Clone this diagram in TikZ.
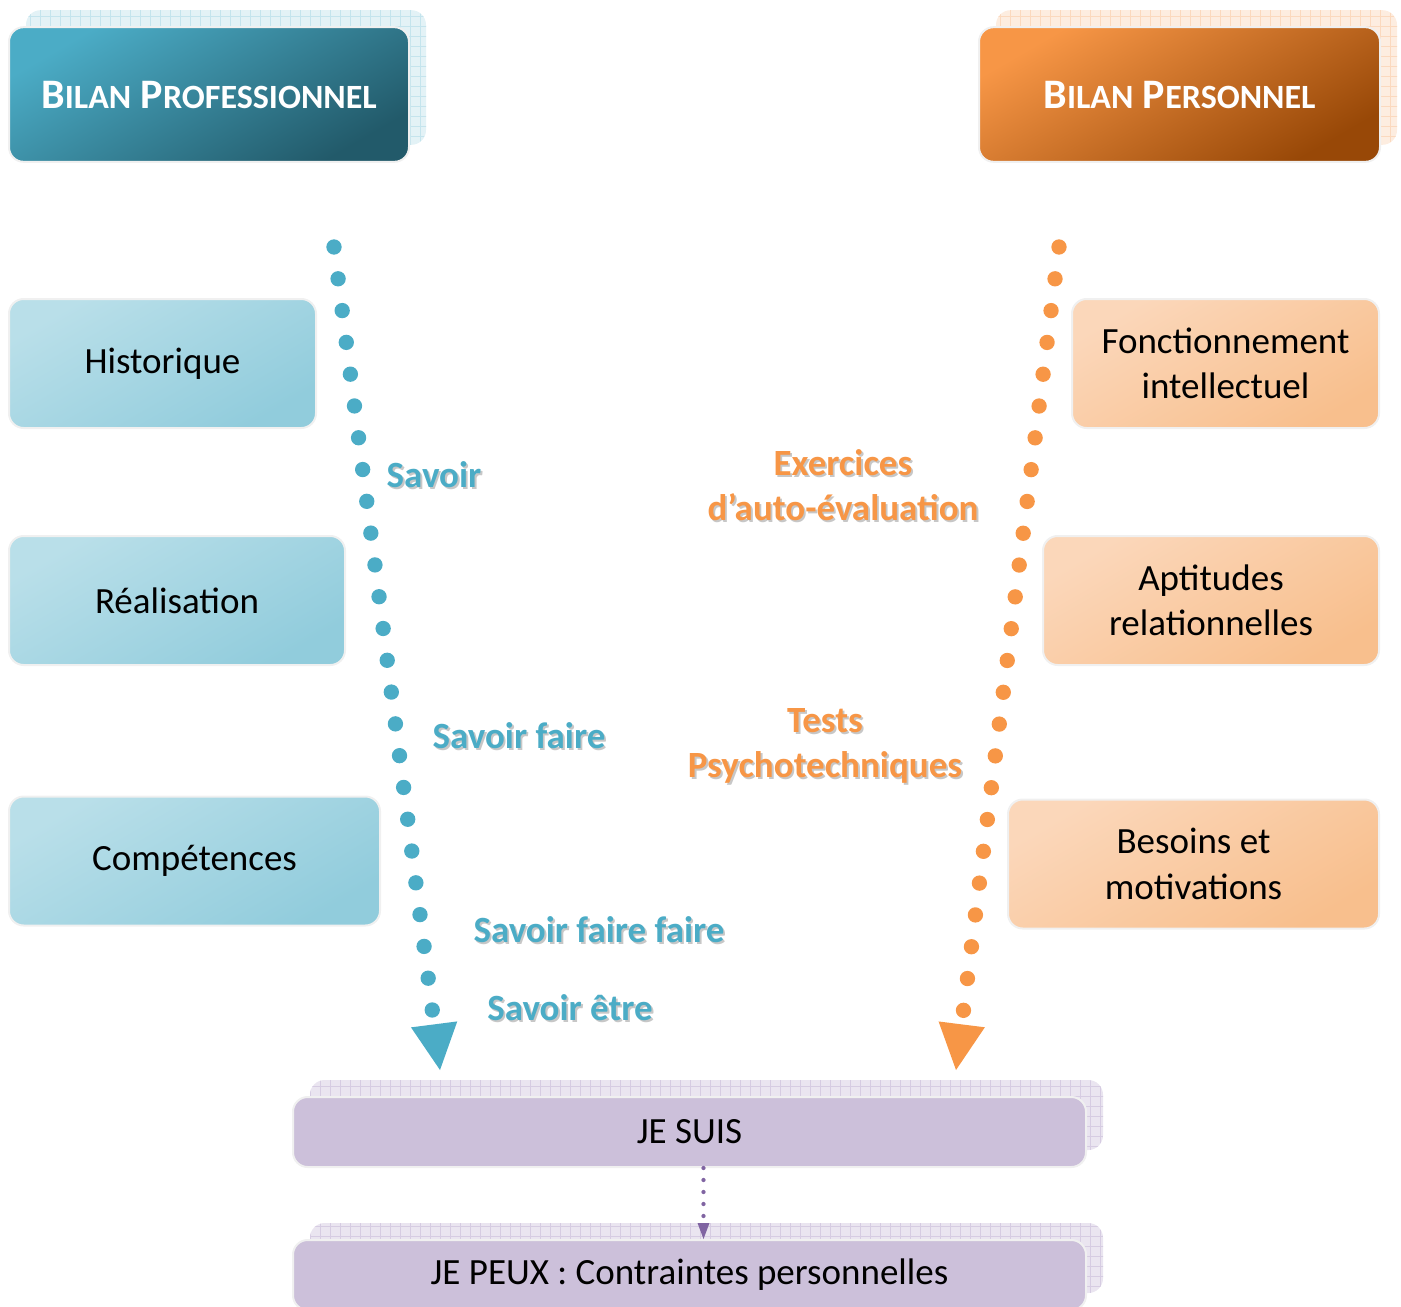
\documentclass[tikz,border=0pt]{standalone}
\usepackage{fontspec}
\setmainfont{Carlito}
\usetikzlibrary{arrows.meta,shadows,patterns.meta}

\definecolor{bluehd}{HTML}{4BACC6}
\definecolor{bluedk}{HTML}{225A6A}
\definecolor{bluelt}{HTML}{B9DFE9}
\definecolor{bluelt2}{HTML}{91CCDC}
\definecolor{bluebk}{HTML}{E3F2F6}
\definecolor{bluegrid}{HTML}{C4E4ED}
\definecolor{orangehd}{HTML}{F79646}
\definecolor{orangedk}{HTML}{984807}
\definecolor{orangelt}{HTML}{FBD7BA}
\definecolor{orangelt2}{HTML}{F8BF8D}
\definecolor{orangebk}{HTML}{FDEDE0}
\definecolor{orangegrid}{HTML}{FBD9BE}
\definecolor{purplebox}{HTML}{CCC0DA}
\definecolor{purplebk}{HTML}{EAE5F0}
\definecolor{purplegrid}{HTML}{D6CCE2}
\definecolor{purpledots}{HTML}{8064A2}

% small caps by hand
\newcommand\hsc[2]{{\fontsize{31.5}{36}\selectfont #1}{\fontsize{25.5}{36}\selectfont #2}}
% coloured text with a soft shadow
\newcommand\shd[2]{\makebox[0pt][l]{\kern1.4pt\raisebox{-1.4pt}{\color{black!22}#2}}\textcolor{#1}{#2}}

\tikzset{
  boxbase/.style={rounded corners=11pt, draw=black!6, line width=1.5pt, align=center, inner sep=0pt,
    font=\fontsize{27.75}{34}\selectfont},
  backcopy/.style n args={2}{copy shadow={shadow xshift=12.75pt, shadow yshift=12.75pt, draw=none, fill=#1,
    postaction={pattern={Hatch[angle=0,distance=7.5pt,line width=0.5pt]}, pattern color=#2}}},
  headblue/.style={boxbase, backcopy={bluebk}{bluegrid}, top color=bluehd, bottom color=bluedk,
    shading angle=30, text=white, font=\fontsize{31.5}{36}\selectfont\bfseries, minimum width=300pt, minimum height=101pt},
  headorange/.style={boxbase, backcopy={orangebk}{orangegrid}, top color=orangehd, bottom color=orangedk,
    shading angle=30, text=white, font=\fontsize{31.5}{36}\selectfont\bfseries, minimum width=300.75pt, minimum height=101pt},
  bluebox/.style={boxbase, top color=bluelt, bottom color=bluelt2, shading angle=30, minimum height=96.75pt},
  orangebox/.style={boxbase, top color=orangelt, bottom color=orangelt2, shading angle=30, minimum height=96.75pt},
  purplebx/.style={boxbase, backcopy={purplebk}{purplegrid}, fill=purplebox, minimum width=594.75pt, minimum height=52.5pt},
  sidetext/.style={align=center, inner sep=0pt, font=\fontsize{27.75}{34}\selectfont\bfseries},
  bluedots/.style={draw=bluehd, line width=11.5pt, line cap=round, dash pattern=on 0pt off 24.04pt,
    -{Triangle[length=34.5pt,width=35pt,line width=0pt]}},
  orangedots/.style={draw=orangehd, line width=11.5pt, line cap=round, dash pattern=on 0pt off 24.04pt,
    -{Triangle[length=34.5pt,width=35pt,line width=0pt]}},
  purpdots/.style={draw=purpledots, line width=3.2pt, line cap=round, dash pattern=on 0pt off 9pt,
    -{Triangle[length=12pt,width=9pt,line width=0pt]}}
}

\begin{document}
\begin{tikzpicture}[x=0.75pt,y=-0.75pt]
\useasboundingbox (0,0) rectangle (1401,1306);

% headers
\node [headblue] (hpro) at (209,94.5) {\hsc{B}{ILAN} \hsc{P}{ROFESSIONNEL}};
\node [headorange] (hper) at (1179.5,94.5) {\hsc{B}{ILAN} \hsc{P}{ERSONNEL}};

% left column
\node [bluebox, minimum width=230.25pt] (hist) at (162.5,363.5) {Historique};
\node [bluebox, minimum width=252pt] (real) at (177,600.5) {Réalisation};
\node [bluebox, minimum width=278.25pt] (comp) at (194.5,861) {Compétences};

% right column
\node [orangebox, minimum width=230.25pt] (fonc) at (1225.5,363.5) {Fonctionnement\\intellectuel};
\node [orangebox, minimum width=252pt] (apti) at (1211,600.5) {Aptitudes\\relationnelles};
\node [orangebox, minimum width=278.25pt] (besoin) at (1193.5,864) {Besoins et\\motivations};

% bottom
\node [purplebx] (suis) at (689.5,1132) {JE SUIS};
\node [purplebx] (peux) at (689.5,1275) {JE PEUX : Contraintes personnelles};

% labels
\node [sidetext] (savoir) at (434,476) {\shd{bluehd}{Savoir}};
\node [sidetext] (sfaire) at (519,737) {\shd{bluehd}{Savoir faire}};
\node [sidetext] (sffaire) at (599,931) {\shd{bluehd}{Savoir faire faire}};
\node [sidetext] (setre) at (570,1009) {\shd{bluehd}{Savoir être}};
\node [sidetext] (exer) at (843,486) {\shd{orangehd}{Exercices}\\\shd{orangehd}{d’auto-évaluation}};
\node [sidetext] (tests) at (825,747) {\shd{orangehd}{Tests}\\\shd{orangehd}{Psychotechniques}};

% dotted arrows
\coordinate (bs) at (334,247);
\coordinate (be) at (440,1070);
\coordinate (os) at (1059,247);
\coordinate (oe) at (956,1070);
\draw [bluedots] (bs) -- (be);
\draw [orangedots] (os) -- (oe);
\draw [purpdots] ([xshift=10.5pt]suis.south) -- ([xshift=10.5pt]peux.north);

\end{tikzpicture}
\end{document}
